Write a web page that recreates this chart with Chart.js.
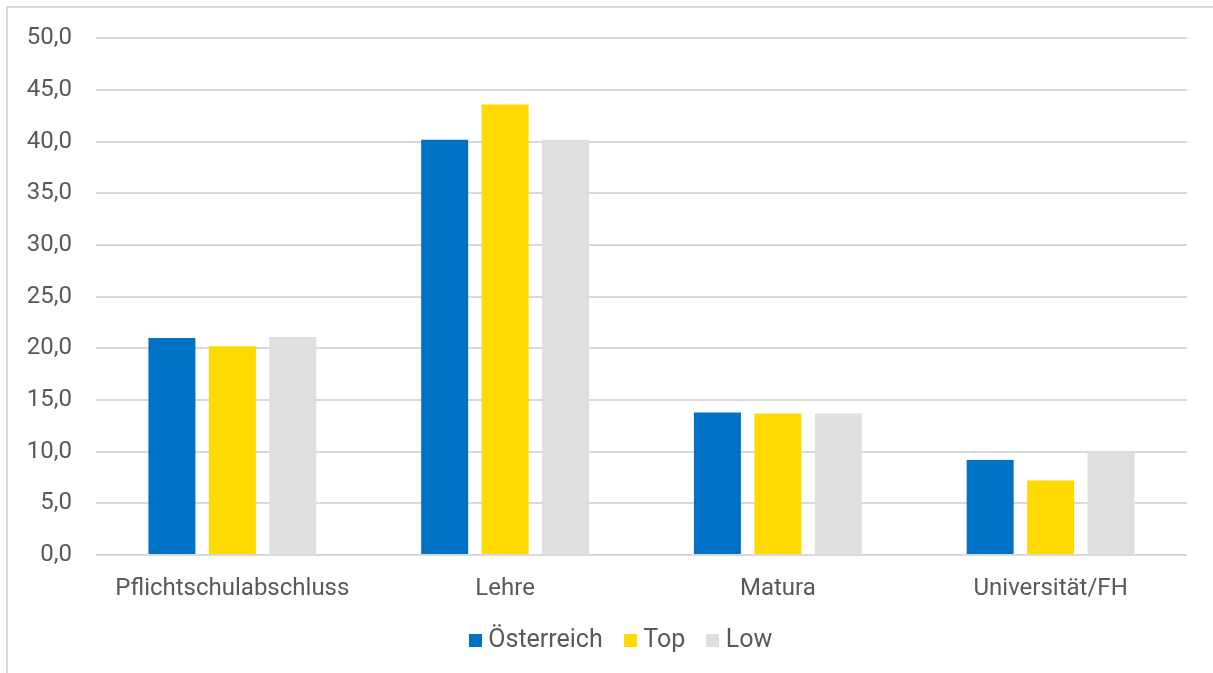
<!DOCTYPE html>
<html>
<head>
<meta charset="utf-8">
<script src="https://cdn.jsdelivr.net/npm/chart.js@4/dist/chart.umd.min.js"></script>
<style>
  html, body { margin: 0; padding: 0; background: #ffffff; overflow: hidden; }
  #wrap { position: relative; width: 1213px; height: 673px; }
  #frame {
    position: absolute; left: 6px; top: 6px; width: 1400px; height: 900px;
    border: 2px solid #d9d9d9; box-sizing: border-box; pointer-events: none;
  }
  canvas { position: absolute; left: 0; top: 0; }
</style>
</head>
<body>
<div id="wrap">
  <div id="frame"></div>
  <canvas id="c" width="1213" height="673"></canvas>
</div>
<script>
// Bildungsabschluss: Anteile in Prozent
const categories = ['Pflichtschulabschluss', 'Lehre', 'Matura', 'Universität/FH'];
const oesterreichValues = [21.0, 40.2, 13.8, 9.2];
const topValues = [20.2, 43.6, 13.7, 7.2];
const lowValues = [21.1, 40.2, 13.7, 9.9];
const yTicks = [0, 5, 10, 15, 20, 25, 30, 35, 40, 45, 50];

const FONT = 'Roboto, "Noto Sans", sans-serif';
const TEXT = '#595959';
const COLORS = ['#0072C6', '#FFDA00', '#DFDFDF'];
const fmt = v => v.toFixed(1).replace('.', ',');

// small square swatches for the legend, placed close to their text
function swatch(color) {
  const cv = document.createElement('canvas');
  cv.width = 13; cv.height = 13;
  const g = cv.getContext('2d');
  g.fillStyle = color;
  g.fillRect(0, 0, 13, 13);
  return cv;
}
const swatches = COLORS.map(swatch);

// centre the legend a little to the right of the canvas middle
const legendShift = {
  id: 'legendShift',
  afterLayout(chart) {
    if (chart.legend) chart.legend.left += 60;
  }
};

new Chart(document.getElementById('c'), {
  type: 'bar',
  data: {
    labels: categories,
    datasets: [
      { label: 'Österreich', data: oesterreichValues, backgroundColor: COLORS[0] },
      { label: 'Top', data: topValues, backgroundColor: COLORS[1] },
      { label: 'Low', data: lowValues, backgroundColor: COLORS[2] }
    ]
  },
  plugins: [legendShift],
  options: {
    responsive: false,
    animation: false,
    devicePixelRatio: 1,
    categoryPercentage: 0.665,
    barPercentage: 0.777,
    layout: { padding: { left: 0, right: 26, top: 36, bottom: 10 } },
    plugins: {
      tooltip: { enabled: false },
      legend: {
        position: 'bottom',
        labels: {
          color: TEXT,
          font: { family: FONT, size: 25 },
          usePointStyle: true,
          pointStyleWidth: 1,
          boxHeight: 13,
          padding: 27,
          generateLabels: chart => {
            const items = Chart.defaults.plugins.legend.labels.generateLabels(chart);
            items.forEach((it, i) => { it.pointStyle = swatches[i]; });
            return items;
          }
        }
      }
    },
    scales: {
      x: {
        grid: { display: false, drawTicks: false },
        border: { display: false },
        ticks: { color: TEXT, font: { family: FONT, size: 24 }, padding: 20, maxRotation: 0 },
        afterFit: s => { s.height = 46; }
      },
      y: {
        min: 0,
        max: 50,
        afterBuildTicks: s => { s.ticks = yTicks.map(v => ({ value: v })); },
        grid: { color: '#d9d9d9', lineWidth: 2, drawTicks: false },
        border: { display: false },
        ticks: {
          color: TEXT,
          font: { family: FONT, size: 24 },
          padding: 24,
          callback: v => fmt(v)
        },
        afterFit: s => { s.width = 96; }
      }
    }
  }
});
</script>
</body>
</html>
